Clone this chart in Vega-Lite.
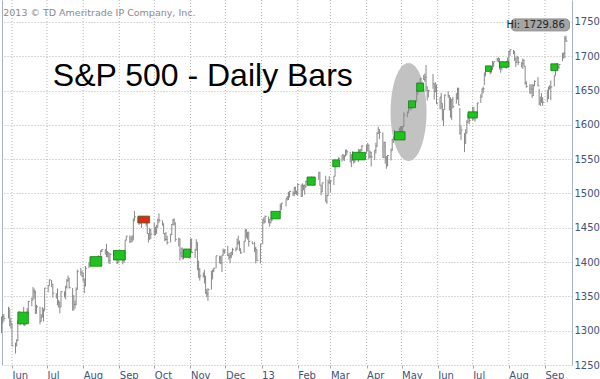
{
  "$schema": "https://vega.github.io/schema/vega-lite/v6.json",
  "width": 570,
  "height": 365,
  "autosize": {"type": "none"},
  "padding": {"left": 2, "top": 0, "right": 28, "bottom": 14},
  "background": "white",
  "config": {"view": {"stroke": null}},
  "datasets": {
    "bars": [
      {"d":"2012-05-23","l":1296.5,"h":1320.7,"c":1318.9},
      {"d":"2012-05-24","l":1310.0,"h":1324.1,"c":1320.7},
      {"d":"2012-05-25","l":1313.3,"h":1324.2,"c":1317.8},
      {"d":"2012-05-29","l":1317.8,"h":1334.9,"c":1332.4},
      {"d":"2012-05-30","l":1306.6,"h":1331.2,"c":1313.3},
      {"d":"2012-05-31","l":1302.9,"h":1318.9,"c":1310.3},
      {"d":"2012-06-01","l":1277.3,"h":1310.3,"c":1278.0},
      {"d":"2012-06-04","l":1266.7,"h":1282.6,"c":1278.2},
      {"d":"2012-06-05","l":1277.2,"h":1287.6,"c":1285.5},
      {"d":"2012-06-06","l":1285.6,"h":1315.1,"c":1315.1},
      {"d":"2012-06-07","l":1313.7,"h":1329.0,"c":1315.0},
      {"d":"2012-06-08","l":1307.8,"h":1325.8,"c":1325.7},
      {"d":"2012-06-11","l":1307.5,"h":1334.7,"c":1308.9},
      {"d":"2012-06-12","l":1306.6,"h":1324.4,"c":1324.2},
      {"d":"2012-06-13","l":1309.4,"h":1327.3,"c":1314.9},
      {"d":"2012-06-14","l":1314.1,"h":1333.0,"c":1329.1},
      {"d":"2012-06-15","l":1324.4,"h":1343.3,"c":1342.8},
      {"d":"2012-06-18","l":1335.5,"h":1348.2,"c":1344.8},
      {"d":"2012-06-19","l":1344.8,"h":1363.5,"c":1358.0},
      {"d":"2012-06-20","l":1346.6,"h":1361.6,"c":1355.7},
      {"d":"2012-06-21","l":1324.4,"h":1358.3,"c":1325.5},
      {"d":"2012-06-22","l":1325.5,"h":1337.8,"c":1335.0},
      {"d":"2012-06-25","l":1309.3,"h":1335.0,"c":1313.7},
      {"d":"2012-06-26","l":1313.7,"h":1324.2,"c":1320.0},
      {"d":"2012-06-27","l":1319.4,"h":1334.4,"c":1331.9},
      {"d":"2012-06-28","l":1313.3,"h":1331.5,"c":1329.0},
      {"d":"2012-06-29","l":1330.0,"h":1362.2,"c":1362.2},
      {"d":"2012-07-02","l":1355.8,"h":1366.4,"c":1365.5},
      {"d":"2012-07-03","l":1365.5,"h":1374.8,"c":1374.0},
      {"d":"2012-07-05","l":1363.5,"h":1373.9,"c":1367.6},
      {"d":"2012-07-06","l":1348.0,"h":1367.2,"c":1354.7},
      {"d":"2012-07-09","l":1346.7,"h":1354.7,"c":1352.5},
      {"d":"2012-07-10","l":1337.0,"h":1361.5,"c":1341.5},
      {"d":"2012-07-11","l":1333.5,"h":1345.0,"c":1341.5},
      {"d":"2012-07-12","l":1325.4,"h":1341.5,"c":1334.8},
      {"d":"2012-07-13","l":1334.8,"h":1357.7,"c":1356.8},
      {"d":"2012-07-16","l":1348.5,"h":1357.3,"c":1353.6},
      {"d":"2012-07-17","l":1345.7,"h":1365.4,"c":1363.7},
      {"d":"2012-07-18","l":1361.5,"h":1375.3,"c":1372.8},
      {"d":"2012-07-19","l":1371.5,"h":1380.4,"c":1376.5},
      {"d":"2012-07-20","l":1361.6,"h":1376.5,"c":1362.7},
      {"d":"2012-07-23","l":1329.2,"h":1362.3,"c":1350.5},
      {"d":"2012-07-24","l":1329.2,"h":1351.5,"c":1338.3},
      {"d":"2012-07-25","l":1331.9,"h":1343.9,"c":1337.9},
      {"d":"2012-07-26","l":1338.0,"h":1363.1,"c":1360.0},
      {"d":"2012-07-27","l":1360.0,"h":1389.2,"c":1386.0},
      {"d":"2012-07-30","l":1380.4,"h":1391.7,"c":1385.3},
      {"d":"2012-07-31","l":1378.6,"h":1387.4,"c":1379.3},
      {"d":"2012-08-01","l":1371.4,"h":1385.0,"c":1375.3},
      {"d":"2012-08-02","l":1354.7,"h":1375.1,"c":1365.0},
      {"d":"2012-08-03","l":1365.0,"h":1394.2,"c":1391.0},
      {"d":"2012-08-06","l":1391.0,"h":1399.6,"c":1394.2},
      {"d":"2012-08-07","l":1394.2,"h":1407.1,"c":1401.4},
      {"d":"2012-08-08","l":1394.7,"h":1404.1,"c":1402.2},
      {"d":"2012-08-09","l":1397.9,"h":1405.9,"c":1402.8},
      {"d":"2012-08-10","l":1395.6,"h":1405.9,"c":1405.9},
      {"d":"2012-08-13","l":1397.3,"h":1405.9,"c":1404.1},
      {"d":"2012-08-14","l":1398.8,"h":1410.0,"c":1403.9},
      {"d":"2012-08-15","l":1401.0,"h":1407.7,"c":1405.5},
      {"d":"2012-08-16","l":1404.1,"h":1417.4,"c":1415.5},
      {"d":"2012-08-17","l":1414.7,"h":1418.7,"c":1418.2},
      {"d":"2012-08-20","l":1410.9,"h":1418.7,"c":1418.1},
      {"d":"2012-08-21","l":1407.1,"h":1426.7,"c":1413.2},
      {"d":"2012-08-22","l":1406.8,"h":1416.1,"c":1413.5},
      {"d":"2012-08-23","l":1398.0,"h":1413.5,"c":1402.1},
      {"d":"2012-08-24","l":1397.0,"h":1413.5,"c":1411.1},
      {"d":"2012-08-27","l":1409.0,"h":1416.2,"c":1410.4},
      {"d":"2012-08-28","l":1403.9,"h":1413.6,"c":1409.3},
      {"d":"2012-08-29","l":1406.8,"h":1413.9,"c":1410.5},
      {"d":"2012-08-30","l":1397.0,"h":1410.1,"c":1399.5},
      {"d":"2012-08-31","l":1398.0,"h":1413.1,"c":1406.6},
      {"d":"2012-09-04","l":1396.6,"h":1409.3,"c":1404.9},
      {"d":"2012-09-05","l":1398.8,"h":1408.8,"c":1403.4},
      {"d":"2012-09-06","l":1403.4,"h":1432.1,"c":1432.1},
      {"d":"2012-09-07","l":1431.8,"h":1437.9,"c":1437.9},
      {"d":"2012-09-10","l":1428.1,"h":1438.7,"c":1429.1},
      {"d":"2012-09-11","l":1429.1,"h":1437.8,"c":1433.6},
      {"d":"2012-09-12","l":1429.1,"h":1439.2,"c":1436.6},
      {"d":"2012-09-13","l":1431.5,"h":1463.8,"c":1460.0},
      {"d":"2012-09-14","l":1460.1,"h":1474.5,"c":1465.8},
      {"d":"2012-09-17","l":1456.9,"h":1465.6,"c":1461.2},
      {"d":"2012-09-18","l":1454.3,"h":1461.5,"c":1459.3},
      {"d":"2012-09-19","l":1456.1,"h":1465.2,"c":1461.1},
      {"d":"2012-09-20","l":1449.8,"h":1461.2,"c":1460.3},
      {"d":"2012-09-21","l":1459.8,"h":1467.1,"c":1460.2},
      {"d":"2012-09-24","l":1452.1,"h":1460.2,"c":1456.9},
      {"d":"2012-09-25","l":1441.3,"h":1463.2,"c":1441.6},
      {"d":"2012-09-26","l":1428.6,"h":1441.6,"c":1433.3},
      {"d":"2012-09-27","l":1433.3,"h":1449.9,"c":1447.2},
      {"d":"2012-09-28","l":1433.5,"h":1447.2,"c":1440.7},
      {"d":"2012-10-01","l":1438.4,"h":1457.1,"c":1444.5},
      {"d":"2012-10-02","l":1439.0,"h":1451.5,"c":1445.8},
      {"d":"2012-10-03","l":1441.0,"h":1454.3,"c":1451.0},
      {"d":"2012-10-04","l":1451.0,"h":1463.4,"c":1461.4},
      {"d":"2012-10-05","l":1456.9,"h":1471.0,"c":1460.9},
      {"d":"2012-10-08","l":1453.1,"h":1460.9,"c":1455.9},
      {"d":"2012-10-09","l":1441.2,"h":1455.9,"c":1441.5},
      {"d":"2012-10-10","l":1430.6,"h":1442.0,"c":1432.6},
      {"d":"2012-10-11","l":1431.8,"h":1443.9,"c":1432.8},
      {"d":"2012-10-12","l":1425.5,"h":1438.4,"c":1428.6},
      {"d":"2012-10-15","l":1428.6,"h":1441.3,"c":1440.1},
      {"d":"2012-10-16","l":1440.1,"h":1455.5,"c":1454.9},
      {"d":"2012-10-17","l":1453.9,"h":1462.8,"c":1460.9},
      {"d":"2012-10-18","l":1453.1,"h":1464.0,"c":1457.3},
      {"d":"2012-10-19","l":1429.9,"h":1457.3,"c":1433.2},
      {"d":"2012-10-22","l":1422.9,"h":1435.5,"c":1433.8},
      {"d":"2012-10-23","l":1402.2,"h":1433.7,"c":1413.1},
      {"d":"2012-10-24","l":1407.0,"h":1420.9,"c":1408.8},
      {"d":"2012-10-25","l":1403.9,"h":1421.3,"c":1413.0},
      {"d":"2012-10-26","l":1403.9,"h":1417.1,"c":1411.9},
      {"d":"2012-10-31","l":1405.3,"h":1418.8,"c":1412.2},
      {"d":"2012-11-01","l":1412.2,"h":1434.3,"c":1427.6},
      {"d":"2012-11-02","l":1412.9,"h":1434.3,"c":1414.2},
      {"d":"2012-11-05","l":1405.9,"h":1419.5,"c":1417.3},
      {"d":"2012-11-06","l":1417.3,"h":1433.4,"c":1428.4},
      {"d":"2012-11-07","l":1388.0,"h":1428.4,"c":1394.5},
      {"d":"2012-11-08","l":1377.5,"h":1402.0,"c":1377.5},
      {"d":"2012-11-09","l":1373.0,"h":1391.4,"c":1379.9},
      {"d":"2012-11-12","l":1377.5,"h":1384.9,"c":1380.0},
      {"d":"2012-11-13","l":1368.8,"h":1388.8,"c":1374.5},
      {"d":"2012-11-14","l":1353.7,"h":1380.1,"c":1355.5},
      {"d":"2012-11-15","l":1348.8,"h":1360.6,"c":1353.3},
      {"d":"2012-11-16","l":1343.4,"h":1362.0,"c":1359.9},
      {"d":"2012-11-19","l":1359.9,"h":1386.9,"c":1386.9},
      {"d":"2012-11-20","l":1374.7,"h":1389.0,"c":1387.8},
      {"d":"2012-11-21","l":1385.4,"h":1391.7,"c":1391.0},
      {"d":"2012-11-23","l":1391.0,"h":1409.2,"c":1409.2},
      {"d":"2012-11-26","l":1398.0,"h":1409.2,"c":1406.3},
      {"d":"2012-11-27","l":1397.0,"h":1409.0,"c":1398.9},
      {"d":"2012-11-28","l":1385.4,"h":1410.0,"c":1409.9},
      {"d":"2012-11-29","l":1409.9,"h":1419.7,"c":1416.0},
      {"d":"2012-11-30","l":1411.9,"h":1418.9,"c":1416.2},
      {"d":"2012-12-03","l":1409.0,"h":1423.7,"c":1409.5},
      {"d":"2012-12-04","l":1403.6,"h":1413.1,"c":1407.1},
      {"d":"2012-12-05","l":1398.2,"h":1414.1,"c":1409.3},
      {"d":"2012-12-06","l":1405.7,"h":1415.2,"c":1413.9},
      {"d":"2012-12-07","l":1410.0,"h":1420.7,"c":1418.1},
      {"d":"2012-12-10","l":1415.6,"h":1421.6,"c":1418.6},
      {"d":"2012-12-11","l":1418.6,"h":1434.3,"c":1427.8},
      {"d":"2012-12-12","l":1425.2,"h":1438.6,"c":1428.5},
      {"d":"2012-12-13","l":1416.0,"h":1431.4,"c":1419.5},
      {"d":"2012-12-14","l":1411.9,"h":1419.5,"c":1413.6},
      {"d":"2012-12-17","l":1413.5,"h":1430.7,"c":1430.4},
      {"d":"2012-12-18","l":1430.4,"h":1448.0,"c":1446.8},
      {"d":"2012-12-19","l":1435.7,"h":1447.8,"c":1435.8},
      {"d":"2012-12-20","l":1432.8,"h":1443.7,"c":1443.7},
      {"d":"2012-12-21","l":1422.6,"h":1443.7,"c":1430.2},
      {"d":"2012-12-24","l":1426.7,"h":1430.2,"c":1426.7},
      {"d":"2012-12-26","l":1414.5,"h":1429.4,"c":1419.8},
      {"d":"2012-12-27","l":1398.1,"h":1422.4,"c":1418.1},
      {"d":"2012-12-28","l":1401.6,"h":1418.1,"c":1402.4},
      {"d":"2012-12-31","l":1398.1,"h":1426.7,"c":1426.2},
      {"d":"2013-01-02","l":1426.2,"h":1462.4,"c":1462.4},
      {"d":"2013-01-03","l":1455.5,"h":1465.5,"c":1459.4},
      {"d":"2013-01-04","l":1457.0,"h":1467.9,"c":1466.5},
      {"d":"2013-01-07","l":1456.6,"h":1466.5,"c":1461.9},
      {"d":"2013-01-08","l":1451.6,"h":1461.9,"c":1457.2},
      {"d":"2013-01-09","l":1457.2,"h":1464.7,"c":1461.0},
      {"d":"2013-01-10","l":1461.0,"h":1472.3,"c":1472.1},
      {"d":"2013-01-11","l":1467.6,"h":1472.8,"c":1472.1},
      {"d":"2013-01-14","l":1466.4,"h":1472.1,"c":1470.7},
      {"d":"2013-01-15","l":1463.8,"h":1473.0,"c":1472.3},
      {"d":"2013-01-16","l":1467.4,"h":1473.0,"c":1472.6},
      {"d":"2013-01-17","l":1472.6,"h":1485.2,"c":1480.9},
      {"d":"2013-01-18","l":1475.9,"h":1486.0,"c":1486.0},
      {"d":"2013-01-22","l":1481.2,"h":1492.6,"c":1492.6},
      {"d":"2013-01-23","l":1489.9,"h":1496.1,"c":1494.8},
      {"d":"2013-01-24","l":1490.4,"h":1502.3,"c":1494.8},
      {"d":"2013-01-25","l":1494.8,"h":1503.3,"c":1503.0},
      {"d":"2013-01-28","l":1496.3,"h":1503.2,"c":1500.2},
      {"d":"2013-01-29","l":1496.3,"h":1509.9,"c":1507.8},
      {"d":"2013-01-30","l":1499.0,"h":1509.9,"c":1502.0},
      {"d":"2013-01-31","l":1498.1,"h":1504.2,"c":1498.1},
      {"d":"2013-02-01","l":1498.1,"h":1514.4,"c":1513.2},
      {"d":"2013-02-04","l":1495.3,"h":1513.2,"c":1495.7},
      {"d":"2013-02-05","l":1495.7,"h":1514.8,"c":1511.3},
      {"d":"2013-02-06","l":1504.7,"h":1512.5,"c":1512.1},
      {"d":"2013-02-07","l":1498.3,"h":1512.5,"c":1509.4},
      {"d":"2013-02-08","l":1509.4,"h":1518.3,"c":1517.9},
      {"d":"2013-02-11","l":1513.6,"h":1518.3,"c":1517.0},
      {"d":"2013-02-12","l":1515.6,"h":1522.3,"c":1519.4},
      {"d":"2013-02-13","l":1514.1,"h":1524.7,"c":1520.3},
      {"d":"2013-02-14","l":1513.9,"h":1523.1,"c":1521.4},
      {"d":"2013-02-15","l":1514.8,"h":1524.2,"c":1519.8},
      {"d":"2013-02-19","l":1519.8,"h":1530.9,"c":1530.9},
      {"d":"2013-02-20","l":1511.4,"h":1530.9,"c":1512.0},
      {"d":"2013-02-21","l":1497.3,"h":1512.0,"c":1502.4},
      {"d":"2013-02-22","l":1502.4,"h":1515.6,"c":1515.6},
      {"d":"2013-02-25","l":1487.9,"h":1525.8,"c":1487.9},
      {"d":"2013-02-26","l":1485.0,"h":1498.0,"c":1496.9},
      {"d":"2013-02-27","l":1497.0,"h":1520.1,"c":1516.0},
      {"d":"2013-02-28","l":1514.7,"h":1525.3,"c":1514.7},
      {"d":"2013-03-01","l":1501.5,"h":1520.0,"c":1518.2},
      {"d":"2013-03-04","l":1512.3,"h":1525.3,"c":1525.2},
      {"d":"2013-03-05","l":1525.3,"h":1543.5,"c":1539.8},
      {"d":"2013-03-06","l":1538.6,"h":1545.3,"c":1541.5},
      {"d":"2013-03-07","l":1540.4,"h":1545.3,"c":1544.3},
      {"d":"2013-03-08","l":1544.3,"h":1552.5,"c":1551.2},
      {"d":"2013-03-11","l":1546.2,"h":1556.3,"c":1556.2},
      {"d":"2013-03-12","l":1548.2,"h":1556.8,"c":1552.5},
      {"d":"2013-03-13","l":1547.4,"h":1556.4,"c":1554.5},
      {"d":"2013-03-14","l":1554.5,"h":1563.6,"c":1563.2},
      {"d":"2013-03-15","l":1555.7,"h":1563.6,"c":1560.7},
      {"d":"2013-03-18","l":1545.1,"h":1560.7,"c":1552.1},
      {"d":"2013-03-19","l":1538.3,"h":1557.3,"c":1548.3},
      {"d":"2013-03-20","l":1548.3,"h":1561.6,"c":1558.7},
      {"d":"2013-03-21","l":1543.5,"h":1558.7,"c":1545.8},
      {"d":"2013-03-22","l":1545.8,"h":1557.7,"c":1556.9},
      {"d":"2013-03-25","l":1545.8,"h":1564.9,"c":1551.7},
      {"d":"2013-03-26","l":1551.7,"h":1563.9,"c":1563.8},
      {"d":"2013-03-27","l":1551.7,"h":1564.0,"c":1562.9},
      {"d":"2013-03-28","l":1563.0,"h":1570.3,"c":1569.2},
      {"d":"2013-04-01","l":1558.7,"h":1570.6,"c":1562.2},
      {"d":"2013-04-02","l":1562.2,"h":1573.7,"c":1570.3},
      {"d":"2013-04-03","l":1549.9,"h":1571.0,"c":1553.7},
      {"d":"2013-04-04","l":1551.7,"h":1562.6,"c":1560.0},
      {"d":"2013-04-05","l":1539.5,"h":1560.0,"c":1553.3},
      {"d":"2013-04-08","l":1548.6,"h":1563.1,"c":1563.1},
      {"d":"2013-04-09","l":1558.2,"h":1573.9,"c":1568.6},
      {"d":"2013-04-10","l":1568.6,"h":1589.1,"c":1587.7},
      {"d":"2013-04-11","l":1586.6,"h":1597.4,"c":1593.4},
      {"d":"2013-04-12","l":1579.2,"h":1593.4,"c":1588.9},
      {"d":"2013-04-15","l":1552.4,"h":1589.1,"c":1552.4},
      {"d":"2013-04-16","l":1552.4,"h":1575.4,"c":1574.6},
      {"d":"2013-04-17","l":1543.5,"h":1574.6,"c":1552.0},
      {"d":"2013-04-18","l":1536.0,"h":1554.4,"c":1541.6},
      {"d":"2013-04-19","l":1539.5,"h":1555.9,"c":1555.3},
      {"d":"2013-04-22","l":1548.2,"h":1565.6,"c":1562.5},
      {"d":"2013-04-23","l":1562.5,"h":1579.6,"c":1578.8},
      {"d":"2013-04-24","l":1573.6,"h":1583.0,"c":1578.8},
      {"d":"2013-04-25","l":1578.9,"h":1592.6,"c":1585.2},
      {"d":"2013-04-26","l":1577.6,"h":1585.2,"c":1582.2},
      {"d":"2013-04-29","l":1582.3,"h":1596.0,"c":1593.6},
      {"d":"2013-04-30","l":1586.5,"h":1597.6,"c":1597.6},
      {"d":"2013-05-01","l":1581.3,"h":1597.6,"c":1582.7},
      {"d":"2013-05-02","l":1582.8,"h":1598.6,"c":1597.6},
      {"d":"2013-05-03","l":1597.6,"h":1618.5,"c":1614.4},
      {"d":"2013-05-06","l":1611.0,"h":1619.8,"c":1617.5},
      {"d":"2013-05-07","l":1617.5,"h":1626.0,"c":1626.0},
      {"d":"2013-05-08","l":1622.7,"h":1632.8,"c":1632.7},
      {"d":"2013-05-09","l":1620.4,"h":1635.0,"c":1626.7},
      {"d":"2013-05-10","l":1623.7,"h":1633.7,"c":1633.7},
      {"d":"2013-05-13","l":1626.7,"h":1636.0,"c":1633.8},
      {"d":"2013-05-14","l":1633.8,"h":1651.1,"c":1650.3},
      {"d":"2013-05-15","l":1643.5,"h":1661.5,"c":1658.8},
      {"d":"2013-05-16","l":1648.6,"h":1660.5,"c":1650.5},
      {"d":"2013-05-17","l":1652.6,"h":1667.5,"c":1667.5},
      {"d":"2013-05-20","l":1665.5,"h":1672.8,"c":1666.3},
      {"d":"2013-05-21","l":1662.7,"h":1674.9,"c":1669.2},
      {"d":"2013-05-22","l":1648.6,"h":1687.2,"c":1655.4},
      {"d":"2013-05-23","l":1635.5,"h":1655.5,"c":1650.5},
      {"d":"2013-05-24","l":1640.1,"h":1650.5,"c":1649.6},
      {"d":"2013-05-28","l":1652.6,"h":1674.2,"c":1660.1},
      {"d":"2013-05-29","l":1636.9,"h":1660.1,"c":1648.4},
      {"d":"2013-05-30","l":1647.8,"h":1662.3,"c":1654.4},
      {"d":"2013-05-31","l":1630.7,"h":1658.9,"c":1630.7},
      {"d":"2013-06-03","l":1622.7,"h":1640.4,"c":1640.4},
      {"d":"2013-06-04","l":1622.7,"h":1646.5,"c":1631.4},
      {"d":"2013-06-05","l":1606.2,"h":1631.2,"c":1608.9},
      {"d":"2013-06-06","l":1598.2,"h":1622.7,"c":1622.6},
      {"d":"2013-06-07","l":1622.6,"h":1644.4,"c":1643.4},
      {"d":"2013-06-10","l":1639.3,"h":1648.7,"c":1642.8},
      {"d":"2013-06-11","l":1621.0,"h":1642.8,"c":1626.1},
      {"d":"2013-06-12","l":1610.6,"h":1640.3,"c":1612.5},
      {"d":"2013-06-13","l":1607.1,"h":1637.7,"c":1636.4},
      {"d":"2013-06-14","l":1623.9,"h":1640.8,"c":1626.7},
      {"d":"2013-06-17","l":1630.9,"h":1646.5,"c":1639.0},
      {"d":"2013-06-18","l":1636.8,"h":1654.2,"c":1651.8},
      {"d":"2013-06-19","l":1628.9,"h":1654.2,"c":1628.9},
      {"d":"2013-06-20","l":1585.9,"h":1624.6,"c":1588.2},
      {"d":"2013-06-21","l":1577.7,"h":1599.2,"c":1592.4},
      {"d":"2013-06-24","l":1560.3,"h":1588.0,"c":1573.1},
      {"d":"2013-06-25","l":1573.1,"h":1593.8,"c":1588.0},
      {"d":"2013-06-26","l":1588.0,"h":1606.9,"c":1603.3},
      {"d":"2013-06-27","l":1603.3,"h":1615.9,"c":1613.2},
      {"d":"2013-06-28","l":1601.1,"h":1615.9,"c":1606.3},
      {"d":"2013-07-01","l":1606.3,"h":1626.1,"c":1615.0},
      {"d":"2013-07-02","l":1606.8,"h":1626.4,"c":1614.1},
      {"d":"2013-07-03","l":1604.6,"h":1618.0,"c":1615.4},
      {"d":"2013-07-05","l":1615.4,"h":1632.1,"c":1631.9},
      {"d":"2013-07-08","l":1631.9,"h":1644.7,"c":1640.5},
      {"d":"2013-07-09","l":1640.5,"h":1653.0,"c":1652.3},
      {"d":"2013-07-10","l":1646.0,"h":1656.0,"c":1652.6},
      {"d":"2013-07-11","l":1657.9,"h":1676.6,"c":1675.0},
      {"d":"2013-07-12","l":1670.6,"h":1680.2,"c":1680.2},
      {"d":"2013-07-15","l":1677.9,"h":1684.5,"c":1682.5},
      {"d":"2013-07-16","l":1673.6,"h":1683.0,"c":1676.3},
      {"d":"2013-07-17","l":1676.3,"h":1684.8,"c":1680.9},
      {"d":"2013-07-18","l":1680.9,"h":1693.1,"c":1689.4},
      {"d":"2013-07-19","l":1684.1,"h":1692.1,"c":1692.1},
      {"d":"2013-07-22","l":1692.1,"h":1697.6,"c":1695.5},
      {"d":"2013-07-23","l":1691.0,"h":1698.8,"c":1692.4},
      {"d":"2013-07-24","l":1680.9,"h":1697.2,"c":1685.9},
      {"d":"2013-07-25","l":1676.0,"h":1690.9,"c":1690.3},
      {"d":"2013-07-26","l":1679.6,"h":1691.7,"c":1691.7},
      {"d":"2013-07-29","l":1683.2,"h":1690.9,"c":1685.3},
      {"d":"2013-07-30","l":1682.0,"h":1693.2,"c":1686.0},
      {"d":"2013-07-31","l":1685.0,"h":1698.4,"c":1685.7},
      {"d":"2013-08-01","l":1685.7,"h":1707.9,"c":1706.9},
      {"d":"2013-08-02","l":1700.7,"h":1709.7,"c":1709.7},
      {"d":"2013-08-05","l":1703.0,"h":1709.2,"c":1707.1},
      {"d":"2013-08-06","l":1693.1,"h":1707.1,"c":1697.4},
      {"d":"2013-08-07","l":1684.5,"h":1697.4,"c":1690.9},
      {"d":"2013-08-08","l":1690.9,"h":1700.8,"c":1697.5},
      {"d":"2013-08-09","l":1687.1,"h":1699.4,"c":1691.4},
      {"d":"2013-08-12","l":1683.6,"h":1691.5,"c":1689.5},
      {"d":"2013-08-13","l":1681.3,"h":1696.8,"c":1694.2},
      {"d":"2013-08-14","l":1685.4,"h":1695.0,"c":1685.4},
      {"d":"2013-08-15","l":1658.6,"h":1685.4,"c":1661.3},
      {"d":"2013-08-16","l":1654.2,"h":1663.6,"c":1655.8},
      {"d":"2013-08-19","l":1646.0,"h":1659.3,"c":1646.1},
      {"d":"2013-08-20","l":1646.1,"h":1658.6,"c":1652.4},
      {"d":"2013-08-21","l":1639.4,"h":1659.5,"c":1642.8},
      {"d":"2013-08-22","l":1642.8,"h":1658.9,"c":1657.0},
      {"d":"2013-08-23","l":1656.7,"h":1664.8,"c":1663.5},
      {"d":"2013-08-26","l":1656.6,"h":1669.5,"c":1656.8},
      {"d":"2013-08-27","l":1629.1,"h":1652.5,"c":1630.5},
      {"d":"2013-08-28","l":1627.5,"h":1641.2,"c":1635.0},
      {"d":"2013-08-29","l":1632.2,"h":1646.4,"c":1638.2},
      {"d":"2013-08-30","l":1627.5,"h":1640.1,"c":1633.0},
      {"d":"2013-09-03","l":1633.0,"h":1651.4,"c":1639.8},
      {"d":"2013-09-04","l":1637.7,"h":1655.7,"c":1653.1},
      {"d":"2013-09-05","l":1651.4,"h":1657.9,"c":1655.1},
      {"d":"2013-09-06","l":1636.0,"h":1664.8,"c":1655.2},
      {"d":"2013-09-09","l":1656.0,"h":1672.4,"c":1671.7},
      {"d":"2013-09-10","l":1672.4,"h":1684.1,"c":1684.0},
      {"d":"2013-09-11","l":1681.8,"h":1689.1,"c":1689.1},
      {"d":"2013-09-12","l":1681.6,"h":1689.6,"c":1683.4},
      {"d":"2013-09-13","l":1682.2,"h":1688.0,"c":1688.0},
      {"d":"2013-09-16","l":1692.8,"h":1704.9,"c":1697.6},
      {"d":"2013-09-17","l":1697.6,"h":1705.5,"c":1704.8},
      {"d":"2013-09-18","l":1697.2,"h":1729.4,"c":1725.5},
      {"d":"2013-09-19","l":1721.0,"h":1729.9,"c":1722.3}
    ],
    "boxes": [
      {"d":"2012-06-06","d2":"2012-06-15","lo":1310,"hi":1327,"k":"up"},
      {"d":"2012-08-07","d2":"2012-08-17","lo":1394,"hi":1408,"k":"up"},
      {"d":"2012-08-27","d2":"2012-09-06","lo":1403,"hi":1417,"k":"up"},
      {"d":"2012-09-17","d2":"2012-09-27","lo":1457,"hi":1467,"k":"down"},
      {"d":"2012-10-26","d2":"2012-11-01","lo":1407,"hi":1419,"k":"up"},
      {"d":"2013-01-09","d2":"2013-01-17","lo":1463,"hi":1474,"k":"up"},
      {"d":"2013-02-09","d2":"2013-02-16","lo":1512,"hi":1524,"k":"up"},
      {"d":"2013-03-03","d2":"2013-03-09","lo":1539,"hi":1549,"k":"up"},
      {"d":"2013-03-20","d2":"2013-03-31","lo":1549,"hi":1560,"k":"up"},
      {"d":"2013-04-25","d2":"2013-05-04","lo":1578,"hi":1590,"k":"up"},
      {"d":"2013-05-07","d2":"2013-05-13","lo":1625,"hi":1635,"k":"up"},
      {"d":"2013-05-14","d2":"2013-05-20","lo":1649,"hi":1661,"k":"up"},
      {"d":"2013-06-27","d2":"2013-07-05","lo":1610,"hi":1619,"k":"up"},
      {"d":"2013-07-12","d2":"2013-07-17","lo":1678,"hi":1686,"k":"up"},
      {"d":"2013-07-24","d2":"2013-08-01","lo":1684,"hi":1692,"k":"up"},
      {"d":"2013-09-06","d2":"2013-09-12","lo":1679,"hi":1689,"k":"up"}
    ],
    "months": [
      {"d":"2012-06-01"},{"d":"2012-07-01"},{"d":"2012-08-01"},{"d":"2012-09-01"},
      {"d":"2012-10-01"},{"d":"2012-11-01"},{"d":"2012-12-01"},{"d":"2013-01-01"},
      {"d":"2013-02-01"},{"d":"2013-03-01"},{"d":"2013-04-01"},{"d":"2013-05-01"},
      {"d":"2013-06-01"},{"d":"2013-07-01"},{"d":"2013-08-01"},{"d":"2013-09-01"}
    ]
  },
  "resolve": {"scale": {"y": "shared", "x": "shared"}, "axis": {"y": "independent"}},
  "encoding": {
    "x": {"field": "d", "type": "temporal", "title": null,
      "scale": {"type": "utc", "domain": [{"year": 2012, "month": 5, "date": 23, "hours": 10, "utc": true}, {"year": 2013, "month": 9, "date": 24, "hours": 4, "utc": true}]},
      "axis": {
        "values": [
          {"year": 2012, "month": 6, "date": 1, "utc": true},
          {"year": 2012, "month": 7, "date": 1, "utc": true},
          {"year": 2012, "month": 8, "date": 1, "utc": true},
          {"year": 2012, "month": 9, "date": 1, "utc": true},
          {"year": 2012, "month": 10, "date": 1, "utc": true},
          {"year": 2012, "month": 11, "date": 1, "utc": true},
          {"year": 2012, "month": 12, "date": 1, "utc": true},
          {"year": 2013, "month": 1, "date": 1, "utc": true},
          {"year": 2013, "month": 2, "date": 1, "utc": true},
          {"year": 2013, "month": 3, "date": 1, "utc": true},
          {"year": 2013, "month": 4, "date": 1, "utc": true},
          {"year": 2013, "month": 5, "date": 1, "utc": true},
          {"year": 2013, "month": 6, "date": 1, "utc": true},
          {"year": 2013, "month": 7, "date": 1, "utc": true},
          {"year": 2013, "month": 8, "date": 1, "utc": true},
          {"year": 2013, "month": 9, "date": 1, "utc": true}
        ],
        "labelExpr": "utcFormat(datum.value, '%m') == '01' ? utcFormat(datum.value, '%y') : utcFormat(datum.value, '%b')",
        "labelAlign": "left", "labelBaseline": "top", "labelPadding": 2, "labelFlush": false, "labelOverlap": false, "labelBound": false,
        "labelFont": "DejaVu Sans", "labelFontSize": 10, "labelColor": "#42527a",
        "domain": false, "ticks": true, "tickSize": 3, "tickColor": "#9aa6bc",
        "grid": false}
    }
  },
  "layer": [
    {
      "data": {"name": "months"},
      "mark": {"type": "rule", "color": "#b4b4b4", "strokeWidth": 1, "strokeDash": [1, 2]},
      "encoding": {}
    },
    {
      "data": {"values": [{"d": "2013-05-07", "v": 1618.8}]},
      "mark": {"type": "point", "filled": true, "fill": "#c2c2c2", "opacity": 1, "strokeWidth": 0, "size": 9604,
        "shape": "M0,-1C0.203,-1,0.367,-0.552,0.367,0C0.367,0.552,0.203,1,0,1C-0.203,1,-0.367,0.552,-0.367,0C-0.367,-0.552,-0.203,-1,0,-1Z"},
      "encoding": {
        "y": {"field": "v", "type": "quantitative",
          "scale": {"domain": [1250, 1782], "nice": false, "zero": false},
          "axis": {"orient": "left", "labels": false, "ticks": false, "grid": false, "title": null, "domain": true, "domainColor": "#a7b1c4"}}
      }
    },
    {
      "data": {"name": "bars"},
      "mark": {"type": "rule", "color": "#888888", "strokeWidth": 1},
      "encoding": {
        "y": {"field": "l", "type": "quantitative", "title": null,
          "axis": {"orient": "right", "values": [1250, 1300, 1350, 1400, 1450, 1500, 1550, 1600, 1650, 1700, 1750], "format": "d",
            "labelFont": "DejaVu Sans", "labelFontSize": 10, "labelColor": "#42527a", "labelPadding": 2, "labelBaseline": "middle",
            "ticks": false, "domain": true, "domainColor": "#a7b1c4", "labelFlush": false, "labelBound": false,
            "grid": true, "gridColor": "#b4b4b4", "gridDash": [1, 2], "gridWidth": 1}},
        "y2": {"field": "h"}
      }
    },
    {
      "data": {"name": "bars"},
      "mark": {"type": "rule", "color": "#888888", "strokeWidth": 1, "x2Offset": 1.5},
      "encoding": {
        "x2": {"field": "d"},
        "y": {"field": "c", "type": "quantitative", "axis": null}
      }
    },
    {
      "data": {"name": "boxes"},
      "mark": {"type": "rect", "stroke": "#137a13", "strokeWidth": 0.8},
      "encoding": {
        "x2": {"field": "d2"},
        "y": {"field": "lo", "type": "quantitative", "axis": null},
        "y2": {"field": "hi"},
        "fill": {"field": "k", "type": "nominal", "legend": null, "scale": {"domain": ["up", "down"], "range": ["#1ec41e", "#e8221c"]}}
      }
    },
    {
      "data": {"values": [{"d": "2013-08-03", "d2": "2013-09-22", "lo": 1737, "hi": 1754.4}]},
      "mark": {"type": "rect", "fill": "#a5a5a5", "stroke": "#8c8c8c", "strokeWidth": 1, "cornerRadius": 4},
      "encoding": {
        "x2": {"field": "d2"},
        "y": {"field": "lo", "type": "quantitative", "axis": null},
        "y2": {"field": "hi"}
      }
    },
    {
      "data": {"values": [{"d": "2013-08-24", "v": 1745.6, "t": "Hi: 1729.86"}]},
      "mark": {"type": "text", "font": "DejaVu Sans", "fontSize": 10, "color": "#262626", "align": "center", "baseline": "middle"},
      "encoding": {
        "y": {"field": "v", "type": "quantitative", "axis": null},
        "text": {"field": "t"}
      }
    },
    {
      "data": {"values": [{"d": "2012-07-06", "v": 1656.5, "t": "S&P 500 - Daily Bars"}]},
      "mark": {"type": "text", "font": "Liberation Sans", "fontSize": 32, "color": "#000000", "align": "left", "baseline": "alphabetic"},
      "encoding": {
        "y": {"field": "v", "type": "quantitative", "axis": null},
        "text": {"field": "t"}
      }
    },
    {
      "data": {"values": [{"d": "2012-05-24T12:00", "v": 1763, "t": "2013 © TD Ameritrade IP Company, Inc."}]},
      "mark": {"type": "text", "font": "DejaVu Sans", "fontSize": 9.5, "color": "#8a8a8a", "align": "left", "baseline": "middle"},
      "encoding": {
        "y": {"field": "v", "type": "quantitative", "axis": null},
        "text": {"field": "t"}
      }
    }
  ]
}
